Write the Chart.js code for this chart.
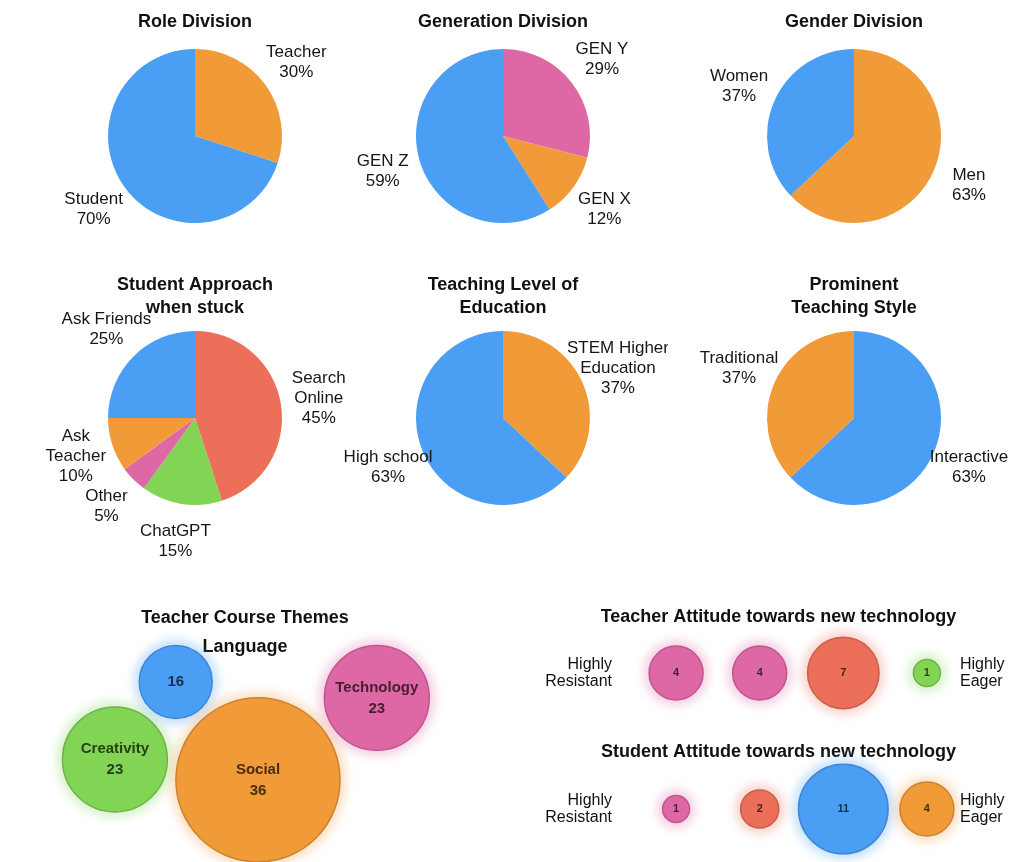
<!DOCTYPE html>
<html>
<head>
<meta charset="utf-8">
<title>Classroom survey overview</title>
<script src="https://cdn.jsdelivr.net/npm/chart.js@4.4.1/dist/chart.umd.min.js"></script>
<style>
  html, body { margin: 0; padding: 0; background: #ffffff; overflow: hidden; }
  #page { position: relative; width: 1022px; height: 862px; overflow: hidden; }
  canvas { position: absolute; }
</style>
</head>
<body>
<div id="page">
  <canvas id="roleChart"       width="330" height="250" style="left:30px;  top:0px;"></canvas>
  <canvas id="generationChart" width="330" height="250" style="left:338px; top:0px;"></canvas>
  <canvas id="genderChart"     width="330" height="250" style="left:689px; top:0px;"></canvas>
  <canvas id="approachChart"   width="330" height="298" style="left:30px;  top:262px;"></canvas>
  <canvas id="levelChart"      width="330" height="298" style="left:338px; top:262px;"></canvas>
  <canvas id="styleChart"      width="330" height="298" style="left:689px; top:262px;"></canvas>
  <canvas id="themeChart"      width="500" height="266" style="left:0px;   top:596px;"></canvas>
  <canvas id="teacherTechChart" width="502" height="129" style="left:520px; top:596px;"></canvas>
  <canvas id="studentTechChart" width="502" height="137" style="left:520px; top:725px;"></canvas>
</div>
<script>
// ---------- survey data ----------
const roleLabels = [['Teacher'], ['Student']];
const roleValues = [30, 70];

const generationLabels = [['GEN Y'], ['GEN X'], ['GEN Z']];
const generationValues = [29, 12, 59];

const genderLabels = [['Men'], ['Women']];
const genderValues = [63, 37];

const approachLabels = [['Search', 'Online'], ['ChatGPT'], ['Other'], ['Ask', 'Teacher'], ['Ask Friends']];
const approachValues = [45, 15, 5, 10, 25];

const levelLabels = [['STEM Higher', 'Education'], ['High school']];
const levelValues = [37, 63];

const styleLabels = [['Interactive'], ['Traditional']];
const styleValues = [63, 37];

const themeLabels = ['Creativity', '', 'Social', 'Technology'];
const themeValues = [23, 16, 36, 23];

const attitudeScaleEnds = [['Highly', 'Resistant'], ['Highly', 'Eager']];
const teacherAttitudeValues = [4, 4, 7, 1];
const studentAttitudeValues = [1, 2, 11, 4];

// ---------- styling ----------
const FONT = '"Liberation Sans", Arial, Helvetica, sans-serif';
Chart.defaults.font.family = FONT;
Chart.defaults.color = '#111111';

const BLUE = '#4a9ff5';
const ORANGE = '#f09a38';
const PINK = '#de68a6';
const GREEN = '#82d455';
const RED = '#ec6f5a';

function shade(hex, f) {
  const n = parseInt(hex.slice(1), 16);
  const r = Math.round(((n >> 16) & 255) * f);
  const g = Math.round(((n >> 8) & 255) * f);
  const b = Math.round((n & 255) * f);
  return `rgb(${r},${g},${b})`;
}
function alpha(hex, a) {
  const n = parseInt(hex.slice(1), 16);
  return `rgba(${(n >> 16) & 255},${(n >> 8) & 255},${n & 255},${a})`;
}

// Category name + percentage written just outside each slice
const outerLabels = {
  id: 'outerLabels',
  afterDatasetsDraw(chart) {
    const { ctx } = chart;
    const meta = chart.getDatasetMeta(0);
    const values = chart.data.datasets[0].data;
    ctx.save();
    ctx.font = '17px ' + FONT;
    ctx.fillStyle = '#161616';
    ctx.textAlign = 'center';
    ctx.textBaseline = 'middle';
    meta.data.forEach((arc, i) => {
      const p = arc.getProps(['x', 'y', 'startAngle', 'endAngle', 'outerRadius'], true);
      const mid = (p.startAngle + p.endAngle) / 2;
      const d = p.outerRadius * 1.44;
      const cx = p.x + Math.cos(mid) * d;
      const cy = p.y + Math.sin(mid) * d;
      const lines = [...chart.data.labels[i], values[i] + '%'];
      const lh = 20;
      lines.forEach((t, k) => ctx.fillText(t, cx, cy + (k - (lines.length - 1) / 2) * lh));
    });
    ctx.restore();
  }
};

function pieChart(id, title, labels, values, colors, twoLineTitle) {
  return new Chart(document.getElementById(id), {
    type: 'pie',
    data: {
      labels: labels,
      datasets: [{ data: values, backgroundColor: colors, borderWidth: 0 }]
    },
    options: {
      responsive: false,
      animation: false,
      events: [],
      radius: 87,
      layout: { autoPadding: false, padding: { bottom: twoLineTitle ? 53.6 : 20.6 } },
      plugins: {
        legend: { display: false },
        tooltip: { enabled: false },
        title: {
          display: true,
          text: title,
          color: '#111111',
          font: { size: 18, weight: 'bold', lineHeight: twoLineTitle ? 1.28 : 1.2 },
          padding: { top: twoLineTitle ? 11.5 : 11, bottom: 10 }
        }
      }
    },
    plugins: [outerLabels]
  });
}

pieChart('roleChart', 'Role Division', roleLabels, roleValues, [ORANGE, BLUE], false);
pieChart('generationChart', 'Generation Division', generationLabels, generationValues, [PINK, ORANGE, BLUE], false);
pieChart('genderChart', 'Gender Division', genderLabels, genderValues, [ORANGE, BLUE], false);
pieChart('approachChart', ['Student Approach', 'when stuck'], approachLabels, approachValues, [RED, GREEN, PINK, ORANGE, BLUE], true);
pieChart('levelChart', ['Teaching Level of', 'Education'], levelLabels, levelValues, [ORANGE, BLUE], true);
pieChart('styleChart', ['Prominent', 'Teaching Style'], styleLabels, styleValues, [BLUE, ORANGE], true);

// Soft glow behind every bubble
const bubbleGlow = {
  id: 'bubbleGlow',
  beforeDatasetsDraw(chart) {
    const { ctx } = chart;
    const ds = chart.data.datasets[0];
    ctx.save();
    ctx.filter = 'blur(5px)';
    chart.getDatasetMeta(0).data.forEach((pt, i) => {
      ctx.fillStyle = alpha(ds.backgroundColor[i], 0.3);
      ctx.beginPath();
      ctx.arc(pt.x, pt.y, pt.options.radius + 6, 0, Math.PI * 2);
      ctx.fill();
    });
    ctx.restore();
  }
};

// Text inside the bubbles
const bubbleText = {
  id: 'bubbleText',
  afterDatasetsDraw(chart, args, opts) {
    const { ctx } = chart;
    const ds = chart.data.datasets[0];
    const size = opts.size || 13;
    ctx.save();
    ctx.textAlign = 'center';
    ctx.textBaseline = 'middle';
    ctx.font = 'bold ' + size + 'px ' + FONT;
    chart.getDatasetMeta(0).data.forEach((pt, i) => {
      ctx.fillStyle = shade(ds.backgroundColor[i], 0.3);
      const lines = opts.lines(i).filter(t => t !== '');
      const lh = opts.lineHeight || size + 4;
      lines.forEach((t, k) => ctx.fillText(t, pt.x, pt.y + (k - (lines.length - 1) / 2) * lh));
    });
    ctx.restore();
  }
};

// Scale-end captions beside a single row of bubbles
const rowEnds = {
  id: 'rowEnds',
  afterDraw(chart, args, opts) {
    const { ctx, chartArea } = chart;
    const y = chart.scales.y.getPixelForValue(0);
    const lh = 17;
    ctx.save();
    ctx.font = '16px ' + FONT;
    ctx.fillStyle = '#111111';
    ctx.textBaseline = 'middle';
    const put = (lines, x, align) => {
      ctx.textAlign = align;
      lines.forEach((t, k) => ctx.fillText(t, x, y + (k - (lines.length - 1) / 2) * lh));
    };
    put(opts.left, chartArea.left + (opts.leftInset || 0), 'right');
    put(opts.right, chartArea.right + 3, 'left');
    ctx.restore();
  }
};

// Packs circles inside a w x h frame: each is drawn to the centre, heavier ones sink,
// and overlapping pairs are pushed apart (keeping a fixed gap).
function packBubbles(radii, w, h, gap) {
  const n = radii.length;
  const mean = radii.reduce((s, r) => s + r, 0) / n;
  const nodes = radii.map((r, i) => ({
    r, m: r * r,
    x: w * (i + 1) / (n + 1), y: h / 2,
    ty: h / 2 + (r - mean) * 1.5
  }));
  const clamp = nd => {
    nd.x = Math.min(Math.max(nd.x, nd.r), w - nd.r);
    nd.y = Math.min(Math.max(nd.y, nd.r), h - nd.r);
  };
  for (let it = 0; it < 1500; it++) {
    nodes.forEach(nd => {
      nd.x += (w / 2 - nd.x) * 0.02;
      nd.y += (nd.ty - nd.y) * 0.02;
      clamp(nd);
    });
    for (let pass = 0; pass < 3; pass++) {
      for (let i = 0; i < n; i++) {
        for (let j = i + 1; j < n; j++) {
          const a = nodes[i], b = nodes[j];
          const dx = b.x - a.x, dy = b.y - a.y;
          const d = Math.hypot(dx, dy) || 1e-6;
          const min = a.r + b.r + gap;
          if (d < min) {
            const push = min - d, ux = dx / d, uy = dy / d, tot = a.m + b.m;
            a.x -= ux * push * b.m / tot; a.y -= uy * push * b.m / tot;
            b.x += ux * push * a.m / tot; b.y += uy * push * a.m / tot;
            clamp(a); clamp(b);
          }
        }
      }
    }
  }
  return nodes;
}

// ---------- course themes (packed bubbles) ----------
const THEME_RADIUS_PER_UNIT = 2.28;
const THEME_FRAME_RAISE = 16;   // bubbles may rise beside the second title line
const themeColors = [GREEN, BLUE, ORANGE, PINK];
const themeRadii = themeValues.map(v => v * THEME_RADIUS_PER_UNIT);

const themeChart = new Chart(document.getElementById('themeChart'), {
  type: 'bubble',
  data: {
    labels: themeLabels,
    datasets: [{
      data: themeValues.map((v, i) => ({ x: 0, y: 0, r: themeRadii[i] })),
      backgroundColor: themeColors,
      borderColor: themeColors.map(c => shade(c, 0.85)),
      borderWidth: 1.5,
      clip: false
    }]
  },
  options: {
    responsive: false,
    animation: false,
    events: [],
    layout: { autoPadding: false, padding: { right: 10 } },
    scales: {
      x: { display: false, min: 0, max: 1 },
      y: { display: false, min: 0, max: 1, reverse: true }
    },
    plugins: {
      legend: { display: false },
      tooltip: { enabled: false },
      title: {
        display: true, text: ['Teacher Course Themes', 'Language'], color: '#111111',
        font: { size: 18, weight: 'bold', lineHeight: 1.61 }, padding: { top: 7.5, bottom: 0 }
      },
      bubbleText: { size: 15, lineHeight: 21, lines: i => [themeLabels[i], String(themeValues[i])] }
    }
  },
  plugins: [bubbleGlow, bubbleText]
});

(function layoutThemes() {
  const area = themeChart.chartArea;
  const w = area.right - area.left, h = area.bottom - area.top;
  const packed = packBubbles(themeRadii, w, h + THEME_FRAME_RAISE, 10);
  themeChart.data.datasets[0].data = themeValues.map((v, i) => ({
    x: packed[i].x, y: packed[i].y - THEME_FRAME_RAISE, r: themeRadii[i]
  }));
  themeChart.options.scales.x.max = w;
  themeChart.options.scales.y.max = h;
  themeChart.update('none');
})();

// ---------- attitude towards new technology ----------
const ATTITUDE_RADIUS = 13.5;

function attitudeChart(id, title, values, colors, titleTop, bottomPad) {
  return new Chart(document.getElementById(id), {
    type: 'bubble',
    data: {
      datasets: [{
        data: values.map((v, i) => ({ x: i, y: 0, r: ATTITUDE_RADIUS * Math.sqrt(v) })),
        backgroundColor: colors,
        borderColor: colors.map(c => shade(c, 0.85)),
        borderWidth: 1.5,
        clip: false
      }]
    },
    options: {
      responsive: false,
      animation: false,
      events: [],
      layout: { autoPadding: false, padding: { left: 80, right: 65, bottom: bottomPad } },
      scales: {
        x: { display: false, min: -0.91, max: 3.36 },
        y: { display: false, min: -1, max: 1 }
      },
      plugins: {
        legend: { display: false },
        tooltip: { enabled: false },
        title: {
          display: true, text: title, color: '#111111',
          font: { size: 18, weight: 'bold' }, padding: { top: titleTop, bottom: 4 }
        },
        bubbleText: { size: 11, lines: i => [String(values[i])] },
        rowEnds: { left: attitudeScaleEnds[0], right: attitudeScaleEnds[1], leftInset: 12 }
      }
    },
    plugins: [bubbleGlow, bubbleText, rowEnds]
  });
}

attitudeChart('teacherTechChart', 'Teacher Attitude towards new technology',
  teacherAttitudeValues, [PINK, PINK, RED, GREEN], 10.2, 10.8);
attitudeChart('studentTechChart', 'Student Attitude towards new technology',
  studentAttitudeValues, [PINK, RED, BLUE, ORANGE], 16.2, 10.8);
</script>
</body>
</html>
